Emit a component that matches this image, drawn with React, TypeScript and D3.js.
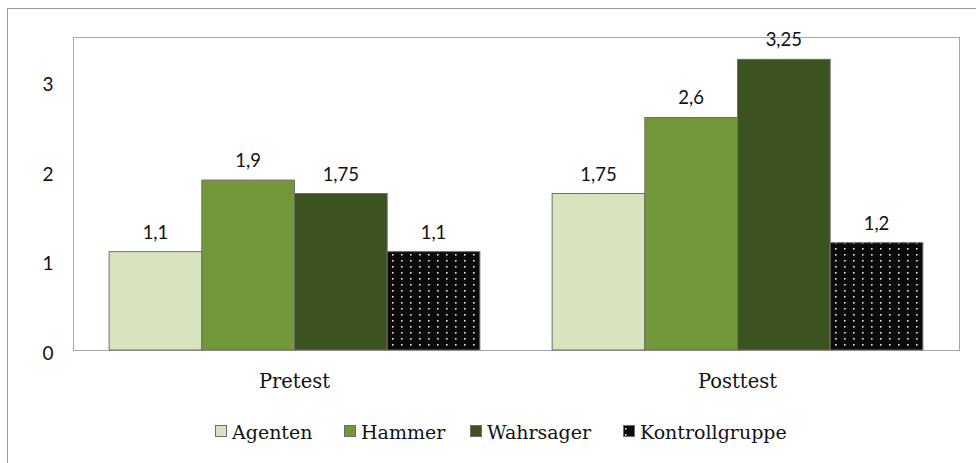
import React from 'react';
import * as d3 from 'd3';

const groups = ['Pretest', 'Posttest'];
const series = ['Agenten', 'Hammer', 'Wahrsager', 'Kontrollgruppe'];
const pretest = [1.1, 1.9, 1.75, 1.1];
const posttest = [1.75, 2.6, 3.25, 1.2];
const valueLabels = [['1,1', '1,9', '1,75', '1,1'], ['1,75', '2,6', '3,25', '1,2']];
const yTicks = [0, 1, 2, 3];
const colors = ['#d7e4bd', '#72983a', '#3c5320', 'url(#dots)'];

const W = 976;
const H = 463;
const margin = { top: 37, right: 17, bottom: 113, left: 73 };

const App: React.FC = () => {
    const values = [pretest, posttest];
    const x0 = d3.scaleBand<string>().domain(groups).range([margin.left, W - margin.right]);
    const x1 = d3.scaleBand<string>().domain(series).range([0, x0.bandwidth()]).paddingInner(0).paddingOuter(0.39);
    const y = d3.scaleLinear().domain([0, 3.5]).range([H - margin.bottom, margin.top]);

    const sans = 'Lato, "Open Sans", sans-serif';
    const serif = '"DejaVu Serif", serif';

    // legend layout
    const legendX = [215, 344, 470, 623];

    return (
        <svg width={W} height={H} style={{ position: 'absolute', left: 0, top: 0 }}>
            <defs>
                <pattern id="dots" width={9} height={6} patternUnits="userSpaceOnUse">
                    <rect width={9} height={6} fill="#0a0a0a" />
                    <rect x={4} y={2} width={1.6} height={1.6} fill="#e8e8e8" />
                </pattern>
            </defs>
            <rect width={W} height={H} fill="#fff" />
            <rect x={7.5} y={8.5} width={W + 20} height={H + 20} fill="none" stroke="#9a9a9a" />
            <rect x={margin.left + 0.5} y={margin.top + 0.5} width={W - margin.right - margin.left}
                height={H - margin.bottom - margin.top} fill="none" stroke="#a6a6a6" />

            {yTicks.map(t => (
                <text key={t} x={48} y={y(t) + 3} dy="0.35em" textAnchor="middle" fontFamily={sans} fontSize={19} fill="#111">{t}</text>
            ))}

            {groups.map((g, gi) => (
                <g key={g} transform={`translate(${x0(g)},0)`}>
                    {series.map((s, si) => {
                        const v = values[gi][si];
                        const bx = x1(s) as number;
                        return (
                            <g key={s}>
                                <rect x={bx} y={y(v)} width={x1.bandwidth()} height={y(0) - y(v)}
                                    fill={colors[si]} stroke="#6d6d6d" strokeWidth={1} />
                                <text x={bx + x1.bandwidth() / 2} y={y(v) - 13} textAnchor="middle"
                                    fontFamily={sans} fontSize={18.5} fill="#111">{valueLabels[gi][si]}</text>
                            </g>
                        );
                    })}
                    <text x={x0.bandwidth() / 2} y={388} textAnchor="middle" fontFamily={serif} fontSize={19.5} fill="#111">{g}</text>
                </g>
            ))}

            {series.map((s, si) => (
                <g key={s}>
                    <rect x={legendX[si] + 0.5} y={425.5} width={11} height={11} fill={colors[si]} stroke="#6d6d6d" />
                    <text x={legendX[si] + 17} y={439} fontFamily={serif} fontSize={19} fill="#111">{s}</text>
                </g>
            ))}
        </svg>
    );
};

export default App;
